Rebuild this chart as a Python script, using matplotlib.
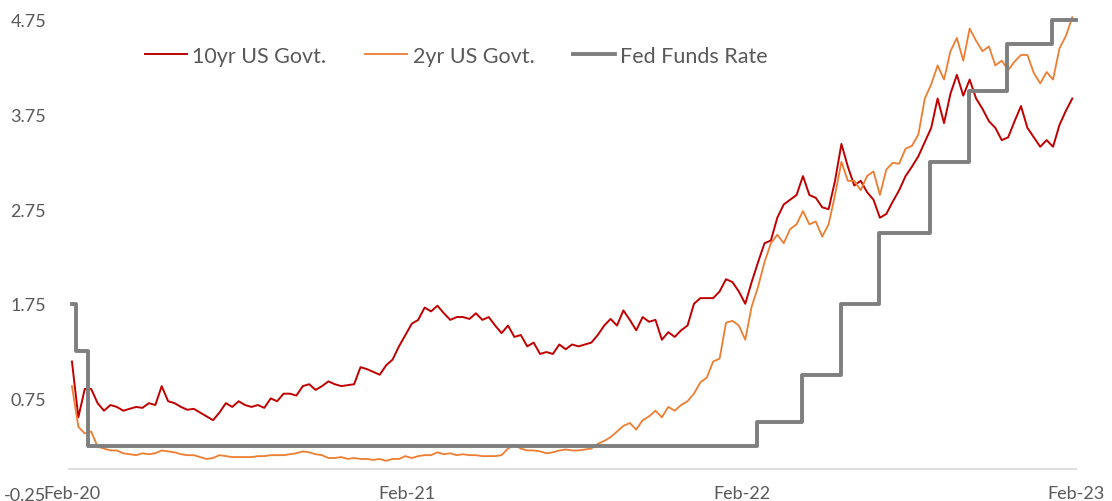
import pandas as pd
import matplotlib
matplotlib.use('Agg')
import matplotlib.pyplot as plt

# weekly samples starting 28 Feb 2020
start_date = '2020-02-28'

us10y = [1.14, 0.55, 0.85, 0.85, 0.70, 0.62, 0.68, 0.66, 0.62, 0.64,
         0.66, 0.65, 0.70, 0.68, 0.88, 0.72, 0.70, 0.66, 0.63, 0.64,
         0.60, 0.56, 0.52, 0.60, 0.70, 0.66, 0.72, 0.68, 0.66, 0.68,
         0.65, 0.75, 0.72, 0.80, 0.80, 0.78, 0.88, 0.90, 0.84, 0.88,
         0.93, 0.90, 0.88, 0.89, 0.90, 1.08, 1.06, 1.03, 1.00, 1.10,
         1.16, 1.30, 1.42, 1.54, 1.58, 1.71, 1.67, 1.73, 1.65,
         1.58, 1.61, 1.61, 1.59, 1.65, 1.58, 1.61, 1.52, 1.44, 1.52,
         1.40, 1.42, 1.30, 1.34, 1.22, 1.24, 1.22, 1.32, 1.27, 1.32,
         1.30, 1.32, 1.34, 1.42, 1.52, 1.59, 1.52, 1.68, 1.58, 1.47,
         1.61, 1.56, 1.58, 1.37, 1.45, 1.40, 1.47, 1.52, 1.75, 1.81,
         1.81, 1.81, 1.88, 2.01, 1.98, 1.88, 1.75, 1.98, 2.19, 2.39,
         2.42, 2.66, 2.80, 2.85, 2.90, 3.10, 2.90,
         2.87, 2.77, 2.75, 3.05, 3.44, 3.20, 3.00, 3.05, 2.93, 2.85,
         2.66, 2.70, 2.83, 2.95, 3.10, 3.20, 3.31, 3.46, 3.61, 3.92,
         3.66, 3.97, 4.17,
         3.95, 4.12, 3.92, 3.81, 3.68, 3.61, 3.48, 3.51, 3.68, 3.84,
         3.61, 3.51, 3.41, 3.48, 3.41, 3.64, 3.79, 3.92]

us2y = [0.88, 0.45, 0.38, 0.40, 0.24, 0.22, 0.20, 0.20, 0.17, 0.16,
        0.15, 0.17, 0.16, 0.17, 0.20, 0.19, 0.18, 0.16, 0.15, 0.15,
        0.13, 0.11, 0.12, 0.15, 0.14, 0.13, 0.13, 0.13, 0.13, 0.14,
        0.14, 0.15, 0.15, 0.15, 0.16, 0.17, 0.19, 0.18, 0.16, 0.15,
        0.12, 0.12, 0.13, 0.11, 0.12, 0.11, 0.11, 0.10, 0.11, 0.09,
        0.11, 0.11, 0.14, 0.12, 0.14, 0.15, 0.15, 0.18, 0.16,
        0.17, 0.15, 0.16, 0.15, 0.15, 0.14, 0.14, 0.14, 0.15, 0.22,
        0.26, 0.22, 0.20, 0.20, 0.19, 0.17, 0.18, 0.20, 0.21, 0.20,
        0.20, 0.21, 0.22, 0.27, 0.30, 0.34, 0.40, 0.46, 0.49, 0.42,
        0.52, 0.56, 0.62, 0.55, 0.66, 0.62, 0.68, 0.72, 0.80, 0.92,
        0.97, 1.14, 1.17, 1.55, 1.57, 1.52, 1.37, 1.72, 1.93, 2.19,
        2.39, 2.48, 2.39, 2.54, 2.59, 2.73, 2.59,
        2.62, 2.46, 2.59, 2.90, 3.25, 3.05, 3.05, 2.95, 3.10, 3.15,
        2.90, 3.17, 3.24, 3.23, 3.39, 3.42, 3.54, 3.92, 4.07, 4.27,
        4.12, 4.42, 4.56,
        4.32, 4.66, 4.53, 4.42, 4.47, 4.27, 4.32, 4.22, 4.31, 4.38,
        4.38, 4.19, 4.08, 4.20, 4.12, 4.45, 4.58, 4.78]

# Fed funds target (upper bound), changes
fed_dates = ['2020-02-28', '2020-03-03', '2020-03-16', '2022-03-17', '2022-05-05',
             '2022-06-16', '2022-07-28', '2022-09-22', '2022-11-03', '2022-12-15',
             '2023-02-02', '2023-02-28']
fed_rate = [1.75, 1.25, 0.25, 0.50, 1.00, 1.75, 2.50, 3.25, 4.00, 4.50, 4.75, 4.75]

tick_dates = ['2020-02-28', '2021-02-28', '2022-02-28', '2023-02-28']
tick_labels = ['Feb-20', 'Feb-21', 'Feb-22', 'Feb-23']
y_ticks = [-0.25, 0.75, 1.75, 2.75, 3.75, 4.75]

TXT = '#595959'
plt.rcParams['font.family'] = ['Lato', 'DejaVu Sans']

dates = pd.date_range(start_date, periods=len(us10y), freq='7D')

fig = plt.figure(figsize=(11.12, 5.02), dpi=100)
ax = fig.add_axes([0.0614, 0.0159, 0.907, 0.9423])

ax.plot(dates, us10y, color='#C00000', lw=1.4, label='10yr US Govt.', clip_on=False)
ax.plot(dates, us2y, color='#ED7D31', lw=1.3, label='2yr US Govt.', clip_on=False)
ax.plot(pd.to_datetime(fed_dates), fed_rate, color='#7F7F7F', lw=2.8,
        drawstyle='steps-post', label='Fed Funds Rate', clip_on=False)

# horizontal axis line sits at zero
ax.axhline(0, color='#D9D9D9', lw=1.2, zorder=0)

ax.set_ylim(-0.25, 4.75)
ax.set_xlim(pd.Timestamp('2020-02-24'), pd.Timestamp('2023-03-01'))
ax.set_yticks(y_ticks)
ax.set_yticklabels([f'{v:.2f}' for v in y_ticks])
ax.set_xticks(pd.to_datetime(tick_dates))
ax.set_xticklabels(tick_labels)

for s in ax.spines.values():
    s.set_visible(False)
ax.tick_params(axis='y', length=0, pad=16, labelsize=13, labelcolor=TXT)
ax.tick_params(axis='x', length=0, pad=0, labelsize=13, labelcolor=TXT)
for lbl in ax.get_xticklabels():
    lbl.set_va('center')

ax.legend(loc='center left', bbox_to_anchor=(0.076, 0.924), ncol=3, frameon=False,
          fontsize=15.5, labelcolor=TXT, handlelength=1.95, handletextpad=0.25,
          columnspacing=1.8, borderpad=0, borderaxespad=0)

fig.savefig('out.png', dpi=100)
